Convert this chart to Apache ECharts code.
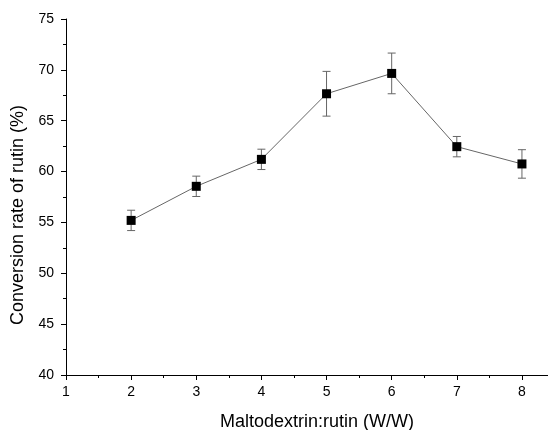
<!DOCTYPE html>
<html>
<head>
<meta charset="utf-8">
<script src="https://cdn.jsdelivr.net/npm/echarts@6/dist/echarts.min.js"></script>
<style>
  html, body { margin: 0; padding: 0; background: #fff; }
  #chart { width: 548px; height: 430px; }
</style>
</head>
<body>
<div id="chart"></div>
<script>
// 麦芽糊精:芦丁 比例
const ratios = [2, 3, 4, 5, 6, 7, 8];
// 转化率 (%)
const conversion = [55.2, 58.55, 61.2, 67.65, 69.65, 62.45, 60.75];
// 误差 (±)
const errors = [1.0, 1.0, 1.0, 2.2, 2.0, 1.0, 1.4];

const chart = echarts.init(document.getElementById('chart'));

const lineData = ratios.map((r, i) => [r, conversion[i]]);
const errData = ratios.map((r, i) => [r, conversion[i] - errors[i], conversion[i] + errors[i]]);

// 误差棒
function renderError(params, api) {
    const x = api.value(0);
    const lo = api.coord([x, api.value(1)]);
    const hi = api.coord([x, api.value(2)]);
    const w = 4;
    const style = { stroke: '#666', lineWidth: 1 };
    return {
        type: 'group',
        children: [
            { type: 'line', shape: { x1: lo[0], y1: lo[1], x2: hi[0], y2: hi[1] }, style: style },
            { type: 'line', shape: { x1: lo[0] - w, y1: lo[1], x2: lo[0] + w, y2: lo[1] }, style: style },
            { type: 'line', shape: { x1: hi[0] - w, y1: hi[1], x2: hi[0] + w, y2: hi[1] }, style: style }
        ]
    };
}

const axisFont = { fontFamily: 'Liberation Sans, Arial, sans-serif', color: '#000' };

const option = {
    animation: false,
    grid: { left: 66, right: 0, top: 19, bottom: 55, outerBoundsMode: 'none', containLabel: false },
    xAxis: {
        type: 'value',
        min: 1,
        max: 8.4,
        interval: 1,
        name: 'Maltodextrin:rutin (W/W)',
        nameLocation: 'middle',
        nameGap: 38,
        nameTextStyle: Object.assign({ fontSize: 18, padding: [0, 0, 0, 20] }, axisFont),
        axisLine: { lineStyle: { color: '#000', width: 1 } },
        axisTick: { show: true, inside: false, length: 5, lineStyle: { color: '#000' } },
        minorTick: { show: true, splitNumber: 2, length: 3, lineStyle: { color: '#000' } },
        splitLine: { show: false },
        axisLabel: Object.assign({ fontSize: 14, margin: 10, showMaxLabel: false,
            formatter: v => Number.isInteger(v) ? String(v) : '' }, axisFont)
    },
    yAxis: {
        type: 'value',
        min: 40,
        max: 75,
        interval: 5,
        name: 'Conversion rate of rutin (%)',
        nameLocation: 'middle',
        nameGap: 37,
        nameTextStyle: Object.assign({ fontSize: 18, padding: [0, 36, 0, 0] }, axisFont),
        axisLine: { show: true, lineStyle: { color: '#000', width: 1 } },
        axisTick: { show: true, inside: false, length: 5, lineStyle: { color: '#000' } },
        minorTick: { show: true, splitNumber: 2, length: 3, lineStyle: { color: '#000' } },
        splitLine: { show: false },
        axisLabel: Object.assign({ fontSize: 14, margin: 12 }, axisFont)
    },
    series: [
        {
            type: 'custom',
            renderItem: renderError,
            data: errData,
            z: 1
        },
        {
            type: 'line',
            data: lineData,
            symbol: 'rect',
            symbolSize: 9,
            itemStyle: { color: '#000' },
            lineStyle: { color: '#666', width: 1 },
            z: 2
        }
    ]
};

chart.setOption(option);
</script>
</body>
</html>
